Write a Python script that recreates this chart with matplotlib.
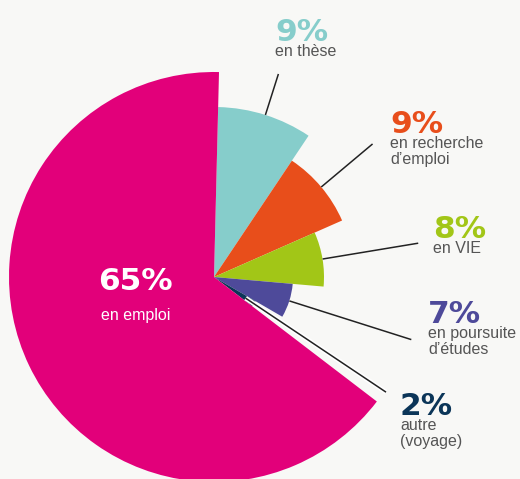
import numpy as np
import matplotlib.pyplot as plt
from matplotlib.patches import Wedge
import matplotlib.patheffects as pe

# slices, clockwise from the top
labels = ["en thèse", "en recherche\nd’emploi", "en VIE", "en poursuite\nd’études", "autre\n(voyage)", "en emploi"]
pct = [9, 9, 8, 7, 2, 65]
radius = [170, 140, 110, 79, 48, 205]
colors = ["#86CDCB", "#E84E1B", "#A2C617", "#4E4A9A", "#0B3558", "#E2007A"]

W, H = 520, 479
fig = plt.figure(figsize=(W / 100, H / 100), dpi=100)
fig.patch.set_facecolor("#F8F8F6")
ax = fig.add_axes([0, 0, 1, 1])
ax.set_xlim(0, W)
ax.set_ylim(0, H)
ax.axis("off")

cx, cy = 214, H - 277
start = 88.6
mids = []
for p, r, c in zip(pct, radius, colors):
    t2 = start
    t1 = start - p * 3.6
    ax.add_patch(Wedge((cx, cy), r, t1, t2, facecolor=c, edgecolor="none"))
    mids.append((t1 + t2) / 2)
    start = t1

# leader lines (radial) for the small slices
for i in range(5):
    a = np.radians(mids[i])
    r0 = radius[i] if i < 4 else 38
    r1 = 213 if i == 0 else 207
    ax.plot([cx + r0 * np.cos(a), cx + r1 * np.cos(a)],
            [cy + r0 * np.sin(a), cy + r1 * np.sin(a)],
            color="#222222", lw=1.1, solid_capstyle="butt",
            path_effects=[pe.Stroke(linewidth=3.5 if i == 4 else 1.1, foreground="white"), pe.Normal()])

# text labels: x, baseline of the percentage (pixels from top-left)
pos = [(275, 41), (390, 133), (433, 238), (428, 323), (400, 415)]
for i, (x, y) in enumerate(pos):
    ax.text(x, H - y, f"{pct[i]}%", color=colors[i], fontsize=22.5, fontweight="bold",
            family="DejaVu Sans", ha="left", va="baseline")
    ax.text(x, H - y - 3, labels[i], color="#555555", fontsize=11.5,
            family="Liberation Sans", ha="left", va="top", linespacing=1.12)

ax.text(135, H - 290, "65%", color="white", fontsize=22.5, fontweight="bold",
        family="DejaVu Sans", ha="center", va="baseline")
ax.text(136, H - 320, labels[5], color="white", fontsize=11.5,
        family="Liberation Sans", ha="center", va="baseline")

fig.savefig("out.png", dpi=100, facecolor=fig.get_facecolor())
